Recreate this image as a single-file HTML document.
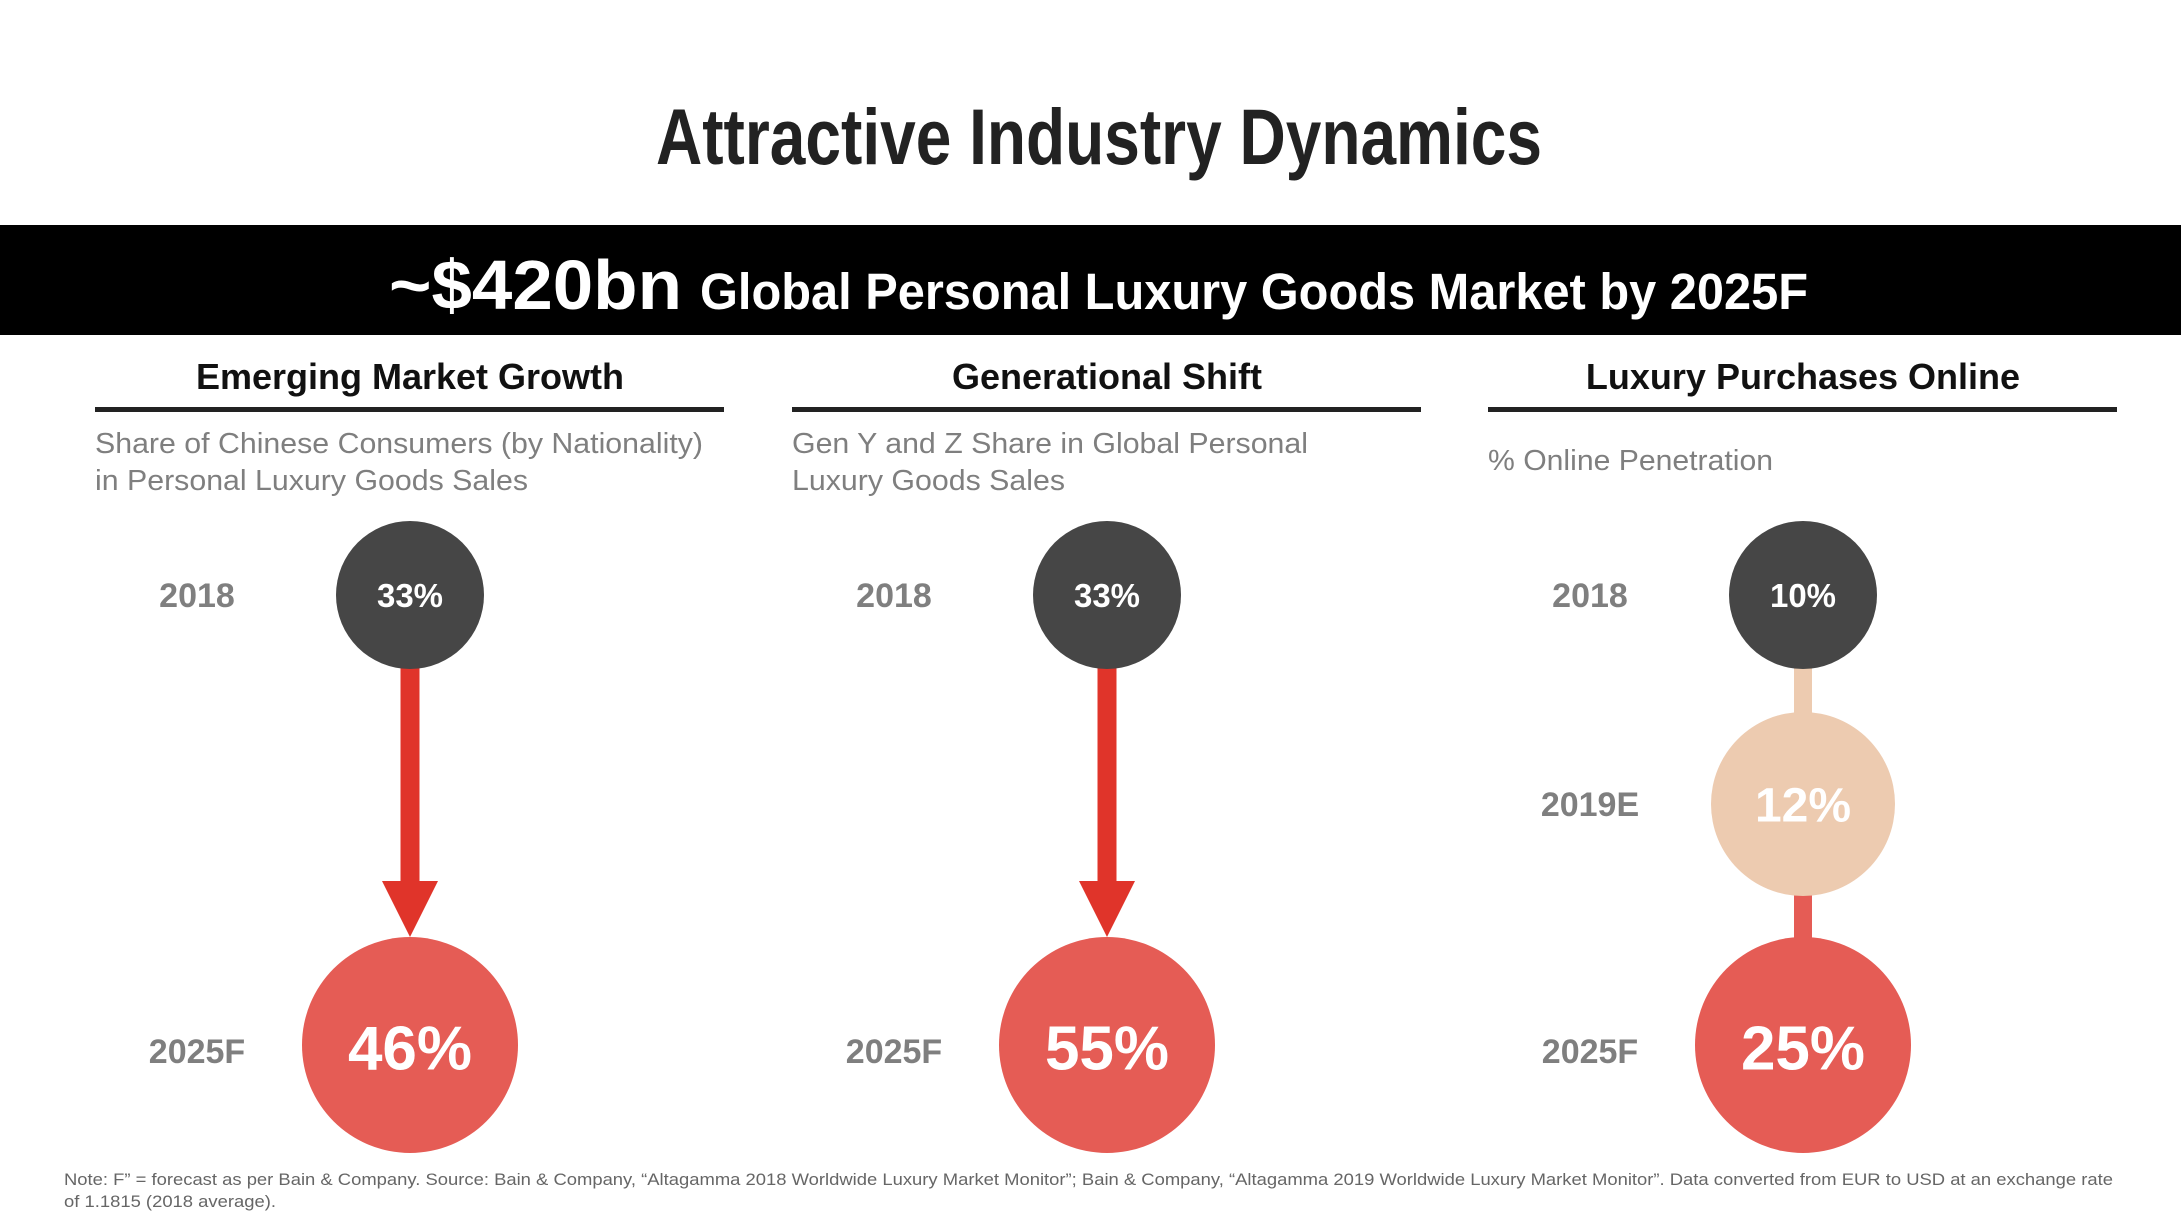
<!DOCTYPE html>
<html><head><meta charset="utf-8"><style>
html,body{margin:0;padding:0;background:#fff}
svg{display:block}
text{font-family:"Liberation Sans",Arial,sans-serif}
</style></head><body>
<svg id="s" width="2181" height="1225" viewBox="0 0 2181 1225">
<text x="1099" y="164" font-size="79" font-weight="bold" fill="#222" text-anchor="middle" textLength="886" lengthAdjust="spacingAndGlyphs">Attractive Industry Dynamics</text>
<rect x="0" y="225" width="2181" height="110" fill="#000"/>
<text x="389" y="309" font-size="70" font-weight="bold" fill="#fff" textLength="293" lengthAdjust="spacingAndGlyphs">~$420bn</text>
<text x="700" y="309" font-size="51" font-weight="bold" fill="#fff" textLength="1108" lengthAdjust="spacingAndGlyphs">Global Personal Luxury Goods Market by 2025F</text>
<g id="cols"></g>
<text x="64" y="1185" font-size="17" fill="#666" textLength="2049" lengthAdjust="spacingAndGlyphs">Note: F” = forecast as per Bain &amp; Company. Source: Bain &amp; Company, “Altagamma 2018 Worldwide Luxury Market Monitor”; Bain &amp; Company, “Altagamma 2019 Worldwide Luxury Market Monitor”. Data converted from EUR to USD at an exchange rate</text>
<text x="64" y="1207" font-size="17" fill="#666" textLength="212" lengthAdjust="spacingAndGlyphs">of 1.1815 (2018 average).</text>
</svg>
<script>
const headers = ["Emerging Market Growth","Generational Shift","Luxury Purchases Online"];
const subtitles = [["Share of Chinese Consumers (by Nationality)","in Personal Luxury Goods Sales"],["Gen Y and Z Share in Global Personal","Luxury Goods Sales"],["% Online Penetration"]];
const years = [["2018","2025F"],["2018","2025F"],["2018","2019E","2025F"]];
const values = [[33,46],[33,55],[10,12,25]];
const NS="http://www.w3.org/2000/svg";
const g=document.getElementById('cols');
const subLens=[[608,433],[516,273],[285]];
function mk(t,a,txt){const e=document.createElementNS(NS,t);for(const k in a)e.setAttribute(k,a[k]);if(txt!==undefined)e.textContent=txt;g.appendChild(e);return e;}
function yPos(label){return label==="2018"?595:label==="2019E"?804:1045;}
function rad(label){return label==="2018"?74:label==="2019E"?92:108;}
const colX=[410,1107,1803];
headers.forEach((h,i)=>{
  const cx=colX[i];
  let e=mk('text',{x:cx,y:389,'font-size':36,'font-weight':'bold',fill:'#111','text-anchor':'middle'},h);
  
  
  e=mk('rect',{x:cx-315,y:407,width:629,height:5,fill:'#222'});
  
  
  const subs=subtitles[i];
  subs.forEach((s,j)=>{
    const y=subs.length===1?470:453+j*37;
    e=mk('text',{x:cx-315,y:y,'font-size':29,fill:'#7f7f7f',textLength:subLens[i][j],lengthAdjust:'spacingAndGlyphs'},s);
    
    
  });
  const ys=years[i], vs=values[i];
  if(ys.length===2){
    const y0=yPos(ys[0])+rad(ys[0]), y1=yPos(ys[1])-rad(ys[1]);
    e=mk('rect',{x:cx-9.5,y:y0-2,width:19,height:(y1-56)-y0+6,fill:'#e0342a'});
    
    
    e=mk('polygon',{points:`${cx-28},${y1-56} ${cx+28},${y1-56} ${cx},${y1}`,fill:'#e0342a'});
    
    
  } else {
    for(let k=0;k<ys.length-1;k++){
      const y0=yPos(ys[k]), y1=yPos(ys[k+1]);
      e=mk('rect',{x:cx-9,y:y0,width:18,height:y1-y0,fill:k===0?'#edcbb0':'#e55c55'});
      
      
    }
  }
  ys.forEach((y,k)=>{
    const cy=yPos(y), r=rad(y);
    const fill=y==="2018"?'#464646':y==="2019E"?'#edcbb0':'#e55c55';
    e=mk('circle',{cx:cx,cy:cy,r:r,fill:fill});
    
    
    const fs=y==="2018"?33:y==="2019E"?48:62;
    e=mk('text',{x:cx,y:cy+fs*0.36+(y==="2025F"?2:0),'font-size':fs,'font-weight':'bold',fill:'#fff','text-anchor':'middle'},vs[k]+'%');
    
    
    e=mk('text',{x:cx-213,y:cy+12+(y==="2025F"?6:0),'font-size':34,'font-weight':'bold',fill:'#7f7f7f','text-anchor':'middle'},y);
    
    
  });
});
</script>
</body></html>
